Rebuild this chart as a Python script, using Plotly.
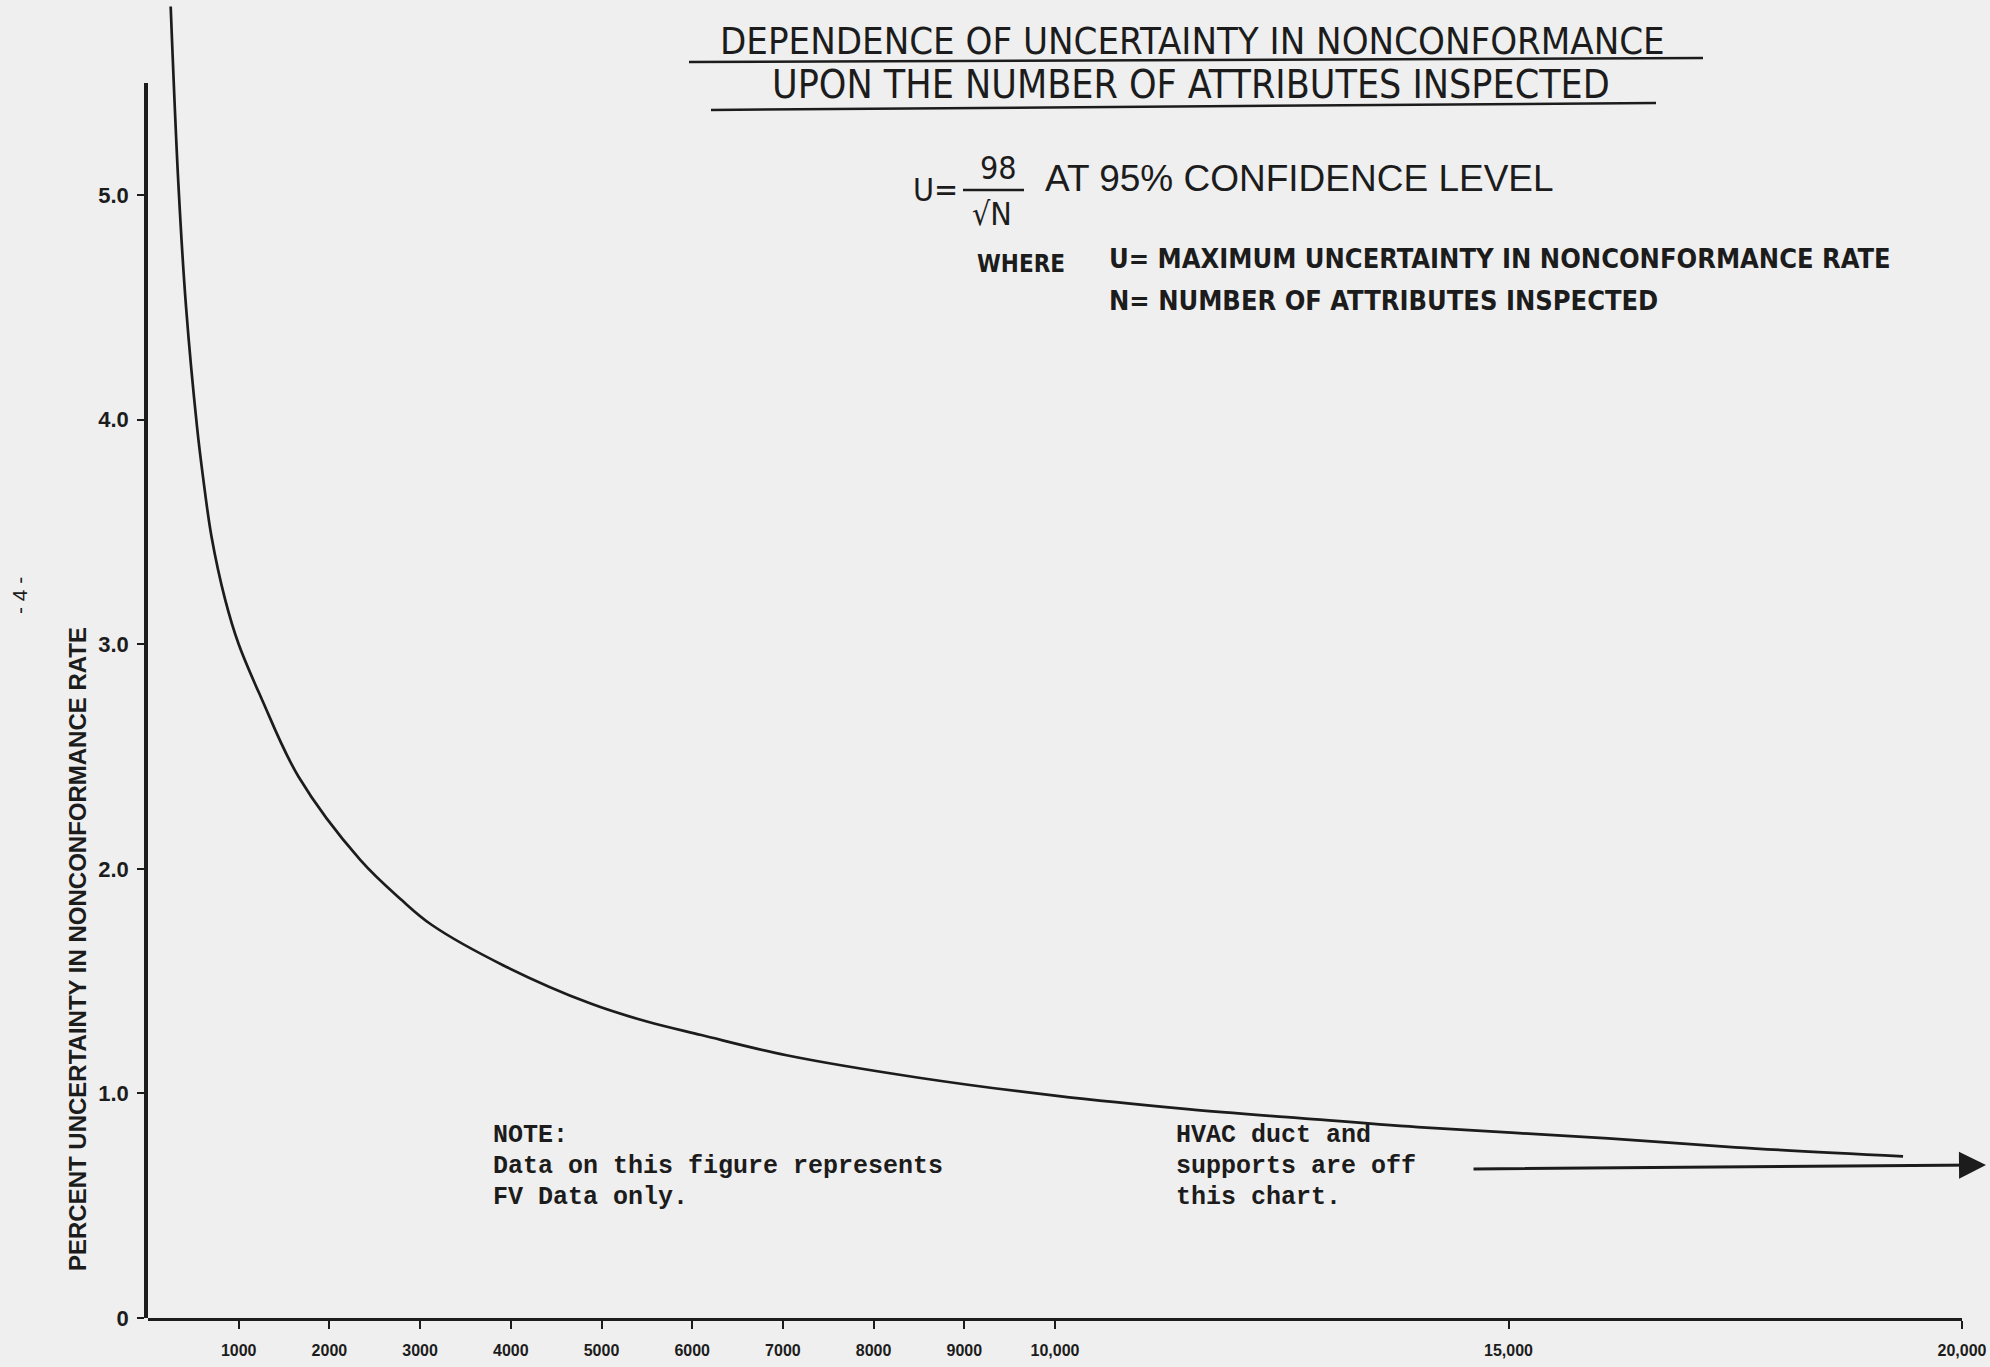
import plotly.graph_objects as go

# ---- data ----
attributes_inspected = [250, 335, 420, 540, 605, 700, 850, 1000, 1250, 1660, 2340, 2800,
                        3130, 3920, 4880, 5500, 6100, 7040, 8500, 10000, 11460, 12700,
                        14000, 16100, 17500, 19350]
uncertainty_pct = [5.84, 5.05, 4.5, 3.97, 3.75, 3.48, 3.2, 3.0, 2.76, 2.41, 2.04, 1.86,
                   1.75, 1.57, 1.40, 1.32, 1.26, 1.17, 1.07, 0.99, 0.93, 0.89,
                   0.85, 0.80, 0.76, 0.72]
x_tick_values = [1000, 2000, 3000, 4000, 5000, 6000, 7000, 8000, 9000, 10000, 15000, 20000]
x_tick_labels = ["1000", "2000", "3000", "4000", "5000", "6000", "7000", "8000", "9000",
                 "10,000", "15,000", "20,000"]
y_tick_values = [0, 1, 2, 3, 4, 5]
y_tick_labels = ["0", "1.0", "2.0", "3.0", "4.0", "5.0"]

# ---- geometry (pixels) ----
W_IMG, H_IMG = 1990, 1367
L, R, T, B = 148, 1962, 2, 1318
Y_MAX = 5.86
Y_AXIS_TOP = 5.5

def px(X):
    return (X - L) / (R - L)

def py(Y):
    return (B - Y) / (B - T)

INK = "#1c1c1c"
BG = "#efefef"
NARROW = "Liberation Sans Narrow, DejaVu Sans Condensed, Arial Narrow, Roboto Condensed, sans-serif"
SANS = "Liberation Sans, Arial, sans-serif"
MONO = "Liberation Mono, Courier New, monospace"

fig = go.Figure()
fig.add_trace(go.Scatter(
    x=attributes_inspected, y=uncertainty_pct, mode="lines",
    line=dict(color=INK, width=2.7, shape="spline", smoothing=1.0),
    hoverinfo="skip", showlegend=False,
))
# empty helper trace so that the second (visible) y axis is drawn
fig.add_trace(go.Scatter(x=[None], y=[None], yaxis="y2", mode="lines",
                         hoverinfo="skip", showlegend=False))

fig.update_layout(
    width=W_IMG, height=H_IMG,
    margin=dict(l=L, r=W_IMG - R, t=T, b=H_IMG - B),
    paper_bgcolor=BG, plot_bgcolor="rgba(0,0,0,0)",
    showlegend=False,
    xaxis=dict(
        range=[0, 20000], showgrid=False, zeroline=False,
        showline=True, linecolor=INK, linewidth=3,
        ticks="outside", ticklen=8, tickwidth=2, tickcolor=INK,
        tickvals=x_tick_values, ticktext=x_tick_labels,
        tickfont=dict(family=SANS, size=16, color=INK, weight="bold"),
        ticklabelstandoff=8, ticklabeloverflow="allow", automargin=False,
    ),
    yaxis=dict(
        range=[0, Y_MAX], showgrid=False, zeroline=False, showline=False,
        showticklabels=False, ticks="", automargin=False,
    ),
    yaxis2=dict(
        domain=[0, Y_AXIS_TOP / Y_MAX], range=[0, Y_AXIS_TOP], anchor="x",
        showgrid=False, zeroline=False,
        showline=True, linecolor=INK, linewidth=3.5,
        ticks="outside", ticklen=7, tickwidth=2, tickcolor=INK,
        tickvals=y_tick_values, ticktext=y_tick_labels,
        tickfont=dict(family=SANS, size=22, color=INK, weight="bold"),
        ticklabelstandoff=4, automargin=False,
    ),
)

ann = []
def text(X, Y, s, size, family=SANS, xanchor="center", yanchor="middle", bold=False,
         angle=0):
    ann.append(dict(
        x=px(X), y=py(Y), xref="paper", yref="paper", text=s, showarrow=False,
        xanchor=xanchor, yanchor=yanchor, textangle=angle, borderpad=0,
        font=dict(family=family, size=size, color=INK, weight="bold" if bold else "normal"),
    ))

# Title
text(1192, 41, "DEPENDENCE OF UNCERTAINTY IN NONCONFORMANCE", 38, NARROW)
text(1191, 84, "UPON THE NUMBER OF ATTRIBUTES INSPECTED", 39, NARROW)

# Formula
text(935, 190, "U=", 32, NARROW)
text(998, 168, "98", 32, NARROW)
text(992, 214, "√N", 32, NARROW)
text(1044, 178, "AT 95% CONFIDENCE LEVEL", 37, SANS, xanchor="left")
text(976, 264, "WHERE", 24, NARROW, xanchor="left", bold=True)
text(1108, 258, "U= MAXIMUM UNCERTAINTY IN NONCONFORMANCE RATE", 27, NARROW,
     xanchor="left", bold=True)
text(1108, 300, "N= NUMBER OF ATTRIBUTES INSPECTED", 27, NARROW, xanchor="left", bold=True)

# Notes
for i, line in enumerate(["NOTE:", "Data on this figure represents", "FV Data only."]):
    text(492, 1135 + 31 * i, line, 25, MONO, xanchor="left", bold=True)
for i, line in enumerate(["HVAC duct and", "supports are off", "this chart."]):
    text(1175, 1135 + 31 * i, line, 25, MONO, xanchor="left", bold=True)

# Axis title and page mark
text(77, 949, "PERCENT UNCERTAINTY IN NONCONFORMANCE RATE", 24, SANS, bold=True, angle=-90)
text(19, 596, "- 4 -", 21, SANS, angle=-90)

# Arrow
ann.append(dict(
    x=px(1986), y=py(1165), xref="paper", yref="paper",
    ax=1472 - 1986, ay=4, axref="pixel", ayref="pixel",
    showarrow=True, arrowhead=2, arrowsize=1.8, arrowwidth=3, arrowcolor=INK, text="",
))
fig.update_layout(annotations=ann)

# Title underlines and fraction bar
shapes = [
    dict(type="line", xref="paper", yref="paper", x0=px(689), y0=py(62), x1=px(1703), y1=py(58),
         line=dict(color=INK, width=2.5)),
    dict(type="line", xref="paper", yref="paper", x0=px(711), y0=py(110), x1=px(1656), y1=py(103),
         line=dict(color=INK, width=2.5)),
    dict(type="line", xref="paper", yref="paper", x0=px(963), y0=py(190), x1=px(1024), y1=py(190),
         line=dict(color=INK, width=2.5)),
]
fig.update_layout(shapes=shapes)

fig.write_html("out.html",
               config={"displayModeBar": False},
               post_script="document.body.style.margin='0';"
                           "document.body.style.background='#efefef';")
